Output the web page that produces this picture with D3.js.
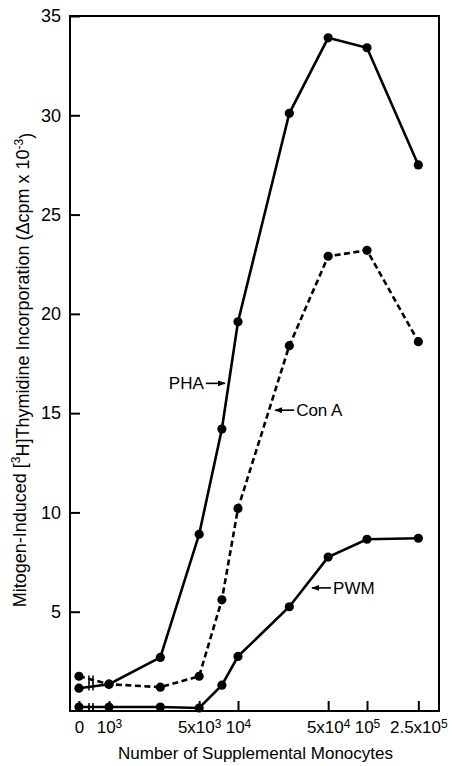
<!DOCTYPE html>
<html>
<head>
<meta charset="utf-8">
<script src="https://cdn.jsdelivr.net/npm/d3@7/dist/d3.min.js"></script>
<style>
  html, body { margin: 0; padding: 0; background: #fff; }
  svg { display: block; font-family: "Liberation Sans", Arial, Helvetica, sans-serif; }
</style>
</head>
<body>
<svg id="chart" width="457" height="766"></svg>
<script>
// ---- data ----
const xValues = [0, 1000, 2500, 5000, 7500, 10000, 25000, 50000, 100000, 250000];
const phaValues  = [1.15, 1.35, 2.7, 8.9, 14.2, 19.6, 30.1, 33.9, 33.4, 27.5];
const conAValues = [1.75, 1.35, 1.2, 1.75, 5.6, 10.2, 18.4, 22.9, 23.2, 18.6];
const pwmValues  = [0.2, 0.2, 0.2, 0.15, 1.3, 2.75, 5.25, 7.75, 8.65, 8.7];
const xTickValues = [0, 1000, 5000, 10000, 50000, 100000, 250000];
const xTickLabels = [["0", ""], ["10", "3"], ["5x10", "3"], ["10", "4"], ["5x10", "4"], ["10", "5"], ["2.5x10", "5"]];
const yTickValues = [5, 10, 15, 20, 25, 30, 35];
const seriesNames = ["PHA", "Con A", "PWM"];
// annotation arrow tips in data units
const labelTipX = [7900, 19400, 37500];
const labelTipY = [16.5, 15.15, 6.2];
const labelSide = ["left", "right", "right"];

// ---- layout ----
const mLeft = 70, mTop = 16, mRight = 439, mBottom = 711;
const zeroProxy = 585; // position used for the "0" category on the log axis

const svg = d3.select("#chart");
const xLog = d3.scaleLog().domain([1000, 100000]).range([109, 367]);
const X = v => xLog(v === 0 ? zeroProxy : v);
const y = d3.scaleLinear().domain([0, 35]).range([mBottom, mTop]);

svg.append("defs").append("marker")
  .attr("id", "arrow").attr("markerUnits", "userSpaceOnUse")
  .attr("markerWidth", 8).attr("markerHeight", 6)
  .attr("refX", 7).attr("refY", 3).attr("orient", "auto")
  .append("path").attr("d", "M0,0 L8,3 L0,6 Z").attr("fill", "#000");

// frame
svg.append("rect")
  .attr("x", mLeft).attr("y", mTop)
  .attr("width", mRight - mLeft).attr("height", mBottom - mTop)
  .attr("fill", "none").attr("stroke", "#000").attr("stroke-width", 2);

// y axis
const yAxis = svg.append("g").attr("transform", `translate(${mLeft},0)`)
  .call(d3.axisLeft(y).tickValues(yTickValues).tickSizeInner(-10).tickSizeOuter(0).tickPadding(9));
yAxis.select(".domain").remove();
yAxis.selectAll(".tick line").attr("stroke-width", 2);
yAxis.selectAll("text").attr("font-size", 18).attr("fill", "#000")
  .attr("font-family", "'Liberation Sans', Arial, sans-serif");

// x axis
const xAxis = svg.append("g").attr("transform", `translate(0,${mBottom})`)
  .call(d3.axisBottom(xLog)
    .tickValues(xTickValues.map(v => v === 0 ? zeroProxy : v))
    .tickSizeInner(-10).tickSizeOuter(0).tickPadding(10)
    .tickFormat(() => ""));
xAxis.select(".domain").remove();
xAxis.selectAll(".tick line").attr("stroke-width", 2);
xAxis.selectAll(".tick text").each(function(d, i) {
  const t = d3.select(this).attr("font-size", 17).attr("fill", "#000")
    .attr("font-family", "'Liberation Sans', Arial, sans-serif");
  t.text(null);
  t.append("tspan").text(xTickLabels[i][0]);
  if (xTickLabels[i][1]) t.append("tspan").attr("font-size", 12).attr("dy", "-0.45em").text(xTickLabels[i][1]);
});

// axis break marks
const breakX = (X(0) + X(1000)) / 2 - 3;
[-2, 2].forEach(off => {
  svg.append("line")
    .attr("x1", breakX + off).attr("x2", breakX + off)
    .attr("y1", mBottom - 6).attr("y2", mBottom + 1)
    .attr("stroke", "#000").attr("stroke-width", 1.5);
});

// series
const seriesValues = [phaValues, conAValues, pwmValues];
const dashes = [null, "6,3.5", null];
const line = d3.line().x((d, i) => X(xValues[i])).y(d => y(d));

seriesValues.forEach((vals, s) => {
  svg.append("path").datum(vals)
    .attr("d", line).attr("fill", "none").attr("stroke", "#000")
    .attr("stroke-width", 2.6).attr("stroke-dasharray", dashes[s]);
  svg.append("g").selectAll("circle").data(vals).join("circle")
    .attr("cx", (d, i) => X(xValues[i])).attr("cy", d => y(d)).attr("r", 4.6).attr("fill", "#000");
  // break marks on the first segment
  const t = (breakX - X(xValues[0])) / (X(xValues[1]) - X(xValues[0]));
  const by = y(vals[0] + (vals[1] - vals[0]) * t);
  [-2, 2].forEach(off => {
    svg.append("line")
      .attr("x1", breakX + off).attr("x2", breakX + off)
      .attr("y1", by - 4).attr("y2", by + 4)
      .attr("stroke", "#000").attr("stroke-width", 1.5);
  });
});

// annotations
seriesNames.forEach((name, i) => {
  const tx = xLog(labelTipX[i]), ty = y(labelTipY[i]);
  const dir = labelSide[i] === "left" ? -1 : 1;
  svg.append("line")
    .attr("x1", tx + dir * 19).attr("y1", ty).attr("x2", tx).attr("y2", ty)
    .attr("stroke", "#000").attr("stroke-width", 1.6).attr("marker-end", "url(#arrow)");
  svg.append("text")
    .attr("x", tx + dir * 21).attr("y", ty).attr("dy", "0.36em")
    .attr("text-anchor", dir < 0 ? "end" : "start")
    .attr("font-size", 17).attr("fill", "#000").text(name);
});

// axis titles
svg.append("text")
  .attr("x", (mLeft + mRight) / 2 + 1).attr("y", 759)
  .attr("text-anchor", "middle").attr("font-size", 17).attr("fill", "#000")
  .text("Number of Supplemental Monocytes");

const yt = svg.append("text")
  .attr("transform", `translate(26,${370}) rotate(-90)`)
  .attr("text-anchor", "middle").attr("font-size", 18).attr("fill", "#000");
yt.append("tspan").text("Mitogen-Induced [");
yt.append("tspan").attr("font-size", 12).attr("dy", "-0.5em").text("3");
yt.append("tspan").attr("dy", "0.5em").text("H]Thymidine Incorporation (\u0394cpm x 10");
yt.append("tspan").attr("font-size", 12).attr("dy", "-0.5em").text("-3");
yt.append("tspan").attr("dy", "0.5em").text(")");
</script>
</body>
</html>
